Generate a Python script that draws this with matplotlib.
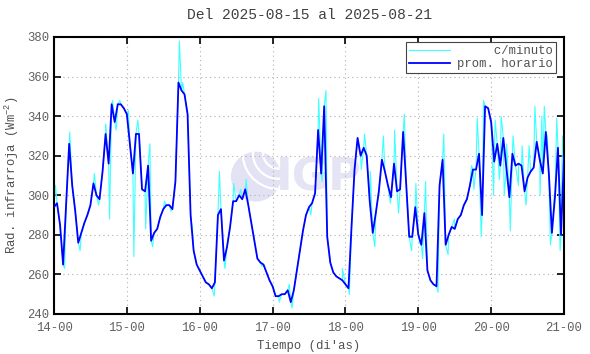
import matplotlib
matplotlib.use("Agg")
import matplotlib.pyplot as plt
from matplotlib.patches import Ellipse, Arc

# hourly mean (prom. horario), one value per hour from 14-00 to 21-00
hourly_vals = [
    294, 296, 285, 265, 295, 326, 305, 292, 276, 281,
    286, 290, 295, 306, 300, 298, 312, 331, 316, 346,
    337, 346, 346, 344, 341, 326, 311, 331, 331, 303,
    302, 315, 277, 281, 283, 289, 293, 295, 295, 293,
    307, 357, 353, 351, 341, 290, 272, 265, 262, 259,
    256, 255, 253, 256, 290, 293, 267, 274, 284, 297,
    297, 300, 298, 303, 295, 286, 277, 268, 266, 265,
    261, 257, 254, 249, 249, 250, 250, 252, 246, 252,
    262, 272, 282, 290, 294, 296, 301, 333, 311, 345,
    279, 266, 261, 259, 258, 257, 255, 253, 284, 313,
    329, 320, 324, 320, 297, 281, 291, 302, 318, 312,
    305, 299, 316, 302, 303, 332, 306, 279, 279, 294,
    280, 275, 291, 262, 257, 255, 254, 305, 318, 275,
    280, 284, 283, 288, 290, 295, 298, 305, 313, 313,
    321, 290, 345, 344, 337, 317, 326, 315, 329, 314,
    299, 321, 315, 316, 315, 302, 309, 312, 314, 327,
    318, 311, 332, 311, 281, 299, 324, 280, 320,
]
hourly_hours = list(range(len(hourly_vals)))

# per-minute excursions (hour, value)
minute_hours = [
    0.0, 0.5, 3.5, 5.2, 8.6, 13.3, 14.7, 17.0, 18.3, 19.3,
    20.5, 21.7, 24.5, 26.3, 27.6, 30.2, 31.6, 32.5, 36.4, 38.5,
    41.3, 42.4, 45.6, 52.8, 54.5, 56.3, 59.2, 61.5, 63.3, 68.5,
    72.3, 74.2, 77.5, 78.4, 84.6, 87.2, 88.3, 89.6, 90.8, 95.0,
    97.3, 99.8, 101.2, 102.3, 104.2, 105.7, 108.5, 110.8, 112.2, 113.5,
    115.4, 117.8, 119.2, 120.4, 121.4, 122.4, 126.5, 128.4, 129.8, 131.9,
    137.5, 138.3, 139.4, 140.7, 141.5, 143.6, 144.8, 145.3, 146.7, 147.3,
    148.3, 149.1, 150.3, 151.2, 153.0, 154.2, 155.5, 156.5, 158.4, 160.1,
    160.7, 161.5, 162.5, 163.5, 164.8, 165.6, 166.7, 167.5, 168.0,
]
minute_vals = [
    288, 305, 263, 332, 272, 311, 295, 336, 288, 348,
    333, 348, 343, 269, 338, 283, 326, 274, 297, 292,
    378, 357, 283, 249, 312, 263, 306, 303, 308, 264,
    253, 246, 255, 243, 290, 349, 307, 353, 270, 263,
    250, 325, 313, 331, 312, 274, 330, 296, 333, 291,
    341, 272, 306, 276, 268, 307, 251, 331, 270, 288,
    315, 303, 339, 279, 348, 339, 300, 338, 308, 340,
    300, 326, 282, 330, 305, 325, 295, 325, 345, 300,
    340, 345, 330, 275, 300, 339, 272, 330, 337,
]

tick_labels = ["14-00", "15-00", "16-00", "17-00", "18-00", "19-00", "20-00", "21-00"]
title_text = "Del 2025-08-15 al 2025-08-21"

# merge hourly points with the minute excursions for the cyan trace
pairs = sorted(list(zip(hourly_hours, hourly_vals)) + list(zip(minute_hours, minute_vals)))
cyan_x = [p[0] for p in pairs]
cyan_y = [p[1] for p in pairs]

plt.rcParams["font.family"] = ["Liberation Mono", "DejaVu Sans Mono"]
plt.rcParams["mathtext.default"] = "regular"
plt.rcParams["font.size"] = 8.8

fig = plt.figure(figsize=(5.9, 3.54), dpi=100)
ax = fig.add_axes([0.0915, 0.113, 0.8645, 0.7825])

# faint IGP watermark: disc with white arcs, then the letters
logo = Ellipse((0.396, 0.496), 0.098, 0.18, transform=ax.transAxes,
               facecolor="#e2e2f4", edgecolor="none", zorder=0)
ax.add_patch(logo)
for w in (0.06, 0.10, 0.14):
    arc = Arc((0.44, 0.58), w, w * 1.84, theta1=150, theta2=330,
              transform=ax.transAxes, color="white", lw=1.6, zorder=0)
    ax.add_patch(arc)
    arc.set_clip_path(logo)
ax.text(0.52, 0.49, "IGP", transform=ax.transAxes, fontsize=32, fontweight="bold",
        family="DejaVu Sans", color="#e4e4f4", ha="center", va="center", zorder=0)

ax.plot(cyan_x, cyan_y, color="#40ffff", lw=0.8, label="     c/minuto", zorder=2)
ax.plot(hourly_hours, hourly_vals, color="#0000ff", lw=1.3, label="prom. horario", zorder=3)

ax.set_xlim(0, 168)
ax.set_ylim(240, 380)
ax.set_xticks(range(0, 169, 24))
ax.set_xticklabels(tick_labels)
ax.set_yticks(range(240, 381, 20))
ax.grid(True, color="#b0b0b0", linestyle=(0, (1, 3)), lw=0.8)
ax.tick_params(direction="in", top=True, right=True, length=5, width=1.2,
               colors="black", labelcolor="#606060")
ax.tick_params(axis="x", pad=6)
for s in ax.spines.values():
    s.set_linewidth(1.5)

ax.set_title(title_text, color="#404040", pad=13)
ax.set_xlabel("Tiempo (di'as)", color="#505050", labelpad=4)
ax.set_ylabel("Rad. infrarroja (Wm$^{-2}$)", color="#505050", labelpad=4)

leg = ax.legend(loc="upper right", bbox_to_anchor=(0.984, 0.982), borderaxespad=0,
                fancybox=False, framealpha=1, edgecolor="#444444", handlelength=3.3,
                borderpad=0.25, labelspacing=0.1, handletextpad=0.6)
leg.get_frame().set_linewidth(0.8)
for t in leg.get_texts():
    t.set_color("#505050")

fig.savefig("out.png", dpi=100)
